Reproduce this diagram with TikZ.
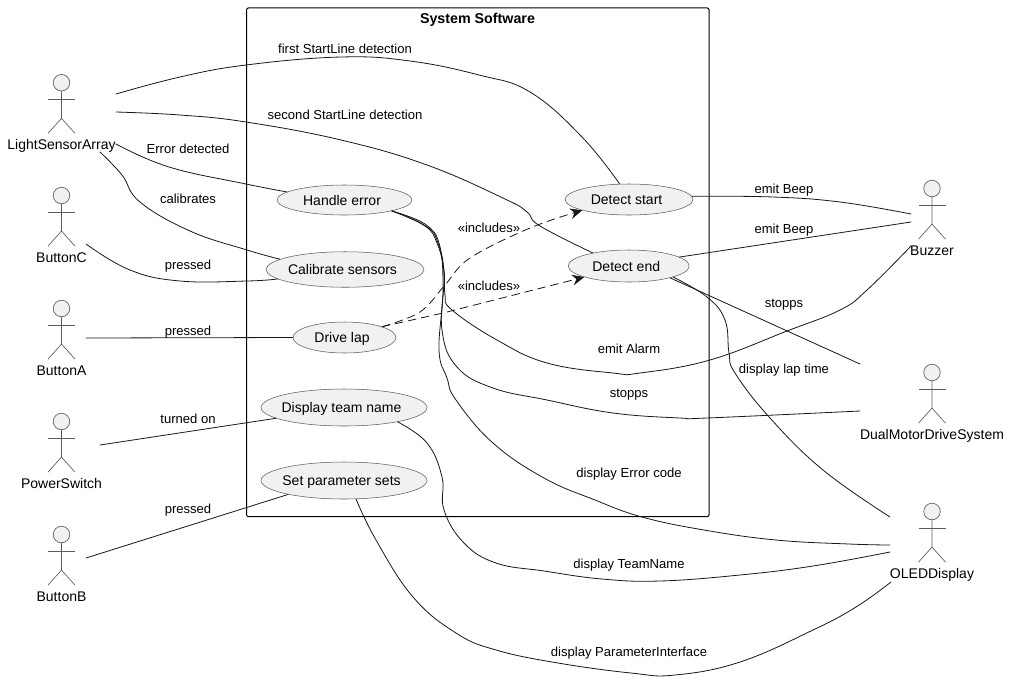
\documentclass[tikz,border=0pt]{standalone}
\usepackage{fontspec}
\setmainfont{Liberation Sans}
\usetikzlibrary{shapes.geometric,arrows.meta}
\definecolor{ucfill}{HTML}{F1F1F1}
\definecolor{ink}{HTML}{181818}
\newcommand{\uctx}[1]{\hspace*{-3.7pt}#1}
\tikzset{
  conn/.style={draw=ink,line width=0.6pt,line cap=round,line join=round},
  uc/.style={ellipse,draw=ink!70,fill=ucfill,line width=0.4pt,inner sep=0pt,font=\fontsize{10.5pt}{12pt}\selectfont,text=black,text height=7.5pt,text depth=0pt},
  lab/.style={font=\fontsize{9.8pt}{11pt}\selectfont,inner sep=0pt,text=black,text height=7.5pt,text depth=0pt},
  actlab/.style={font=\fontsize{10.5pt}{12pt}\selectfont,inner sep=0pt,text=black,text height=8pt,text depth=0pt},
  acthead/.style={circle,draw=ink!70,fill=ucfill,line width=0.5pt,inner sep=0pt,minimum size=12.4pt},
  actline/.style={draw=ink!70,line width=0.5pt},
  incl/.style={conn,dashed,dash pattern=on 6pt off 4pt,-{Stealth[length=9pt,width=8pt,inset=3pt]}},
  sysbox/.style={draw=black,line width=0.75pt,rounded corners=1.5pt}
}
\newcommand{\ucactor}[4]{%
  \node[acthead] (#1) at (#2,#3) {};
  \draw[actline] (#1.south) -- ++(0,27) coordinate (#1hip) -- ++(-13.5,15) (#1hip) -- ++(13.5,15);
  \draw[actline] ([xshift=-13.5*0.75pt,yshift=-8*0.75pt]#1.south) -- ++(27,0);
  \node[actlab] (#1lab) at (#2,#3+61.3) {#4};
}
\begin{document}
\begin{tikzpicture}[x=0.75pt,y=-0.75pt]
\useasboundingbox (0,0) rectangle (1010,690);
\fill[white] (0,0) rectangle (1010,690);
\node[inner sep=0pt,minimum width=462.5*0.75pt,minimum height=508.7*0.75pt,sysbox] (sys) at (477.8,262.3) {};
\node[font=\bfseries\fontsize{10.7pt}{12pt}\selectfont,inner sep=0pt] (systitle) at (477.5,20) {System Software};
% use cases
\node[uc,minimum width=128*0.75pt,minimum height=31*0.75pt] (ds) at (629,199.5) {\uctx{Detect start}};
\node[uc,minimum width=121*0.75pt,minimum height=32*0.75pt] (de) at (628.7,266) {\uctx{Detect end}};
\node[uc,minimum width=135*0.75pt,minimum height=30*0.75pt] (he) at (344.5,200) {\uctx{Handle error}};
\node[uc,minimum width=158*0.75pt,minimum height=35.5*0.75pt] (cs) at (345,269.5) {\uctx{Calibrate sensors}};
\node[uc,minimum width=103*0.75pt,minimum height=31*0.75pt] (dl) at (344.5,337.5) {\uctx{Drive lap}};
\node[uc,minimum width=166*0.75pt,minimum height=37*0.75pt] (dt) at (344,407.5) {\uctx{Display team name}};
\node[uc,minimum width=166*0.75pt,minimum height=37*0.75pt] (sp) at (344,480.5) {\uctx{Set parameter sets}};
% actors
\ucactor{lsa}{61.5}{82.7}{LightSensorArray}
\ucactor{btc}{61.5}{195.5}{ButtonC}
\ucactor{bta}{61.5}{308.5}{ButtonA}
\ucactor{pws}{61.5}{421.5}{PowerSwitch}
\ucactor{btb}{61.5}{534.5}{ButtonB}
\ucactor{buz}{932}{188.5}{Buzzer}
\ucactor{dmd}{932}{372.5}{DualMotorDriveSystem}
\ucactor{old}{932}{511.5}{OLEDDisplay}
% connector free ends at the actors
\coordinate (lsaA) at (116,94);
\coordinate (lsaB) at (116,112);
\coordinate (lsaC) at (116,144);
\coordinate (lsaD) at (100,152);
\coordinate (btcA) at (86,244);
\coordinate (btaA) at (86,338);
\coordinate (pwsA) at (100,445);
\coordinate (btbA) at (86,558);
\coordinate (buzA) at (911,214);
\coordinate (buzB) at (911,222);
\coordinate (buzC) at (911,246);
\coordinate (dmdA) at (860,364);
\coordinate (dmdB) at (860,411);
\coordinate (oldA) at (890,517);
\coordinate (oldB) at (890,545);
\coordinate (oldC) at (890,552);
\coordinate (oldD) at (891,582);
% connectors
\draw[conn] plot[smooth,tension=.7] coordinates {(lsaA) (180,77) (246,65) (341,57) (410,61) (479,75) (530,92) (582,137) (ds.121)};
\draw[conn] plot[smooth,tension=.7] coordinates {(lsaB) (180,115) (246,122) (341,140) (427,165) (505,199) (527,212) (540,226) (de.160)};
\draw[conn] plot[smooth,tension=.7] coordinates {(lsaC) (169,167) (246,184) (he.172)};
\draw[conn] plot[smooth,tension=.7] coordinates {(lsaD) (122,175) (140,202) (190,231) (247,250) (cs.171)};
\draw[conn] plot[smooth,tension=.7] coordinates {(btcA) (130,270) (180,281) (247,281) (cs.188)};
\draw[conn] (btaA) -- (dl.west);
\draw[conn] (pwsA) -- (dt.189);
\draw[conn] (btbA) -- (sp.194);
\draw[conn] plot[smooth,tension=.7] coordinates {(dt.-15) (427,443) (442,477) (444,510) (464,543) (496,563) (544,571) (602,579) (660,581) (740,575) (813,566) (oldC)};
\draw[conn] plot[smooth,tension=.7] coordinates {(sp.-57) (376,540) (413,597) (456,633) (496,650) (558,663) (631,673) (675,675) (740,662) (813,630) (856,607) (oldD)};
\draw[conn] plot[smooth,tension=.7] coordinates {(he.-13) (425,226) (437,243) (444,270) (445,295) (452,310) (497,340) (547,363) (613,373) (640,373) (710,360) (787,331) (840,310) (867,290) (buzC)};
\draw[conn] plot[smooth,tension=.7] coordinates {(he.-13) (425,224) (438,243) (444,275) (442,330) (457,367) (493,388) (547,400) (613,413) (680,418) (707,418) (dmdB)};
\draw[conn] plot[smooth,tension=.7] coordinates {(he.-13) (424,225) (439,243) (443,290) (439,350) (447,378) (456,400) (493,443) (544,478) (595,500) (642,517) (704,530) (776,540) (849,544) (oldB)};
\draw[conn] (de.-16) -- (dmdA);
\draw[conn] plot[smooth,tension=.7] coordinates {(de.-14) (707,297) (725,320) (729,353) (735,373) (770,418) (823,470) (oldA)};
\draw[conn] plot[smooth,tension=.7] coordinates {(ds.3) (773,197) (840,202) (buzA)};
\draw[conn] (de.10) -- (buzB);
\draw[incl] plot[smooth,tension=.6] coordinates {(dl.16) (420,312) (445,285) (470,258) (530,228) (ds.193)};
\draw[incl] (dl.16) -- (443,313) -- (de.194);
% labels
\node[lab] (l1) at (345,48) {first StartLine detection};
\node[lab] (l2) at (345,114.5) {second StartLine detection};
\node[lab] (l3) at (188,148.5) {Error detected};
\node[lab] (l4) at (188,198) {calibrates};
\node[lab] (l5) at (188,264.5) {pressed};
\node[lab] (l6) at (188,330.5) {pressed};
\node[lab] (l7) at (188,418) {turned on};
\node[lab] (l8) at (188,508) {pressed};
\node[lab] (l9) at (489,227) {«includes»};
\node[lab] (l10) at (489,285) {«includes»};
\node[lab] (l11) at (784,188.5) {emit Beep};
\node[lab] (l12) at (784,228) {emit Beep};
\node[lab] (l13) at (784,302) {stopps};
\node[lab] (l14) at (629,348.5) {emit Alarm};
\node[lab] (l15) at (784,368) {display lap time};
\node[lab] (l16) at (629,392) {stopps};
\node[lab] (l17) at (629,472) {display Error code};
\node[lab] (l18) at (629,563.5) {display TeamName};
\node[lab] (l19) at (629,651.5) {display ParameterInterface};
\end{tikzpicture}
\end{document}
